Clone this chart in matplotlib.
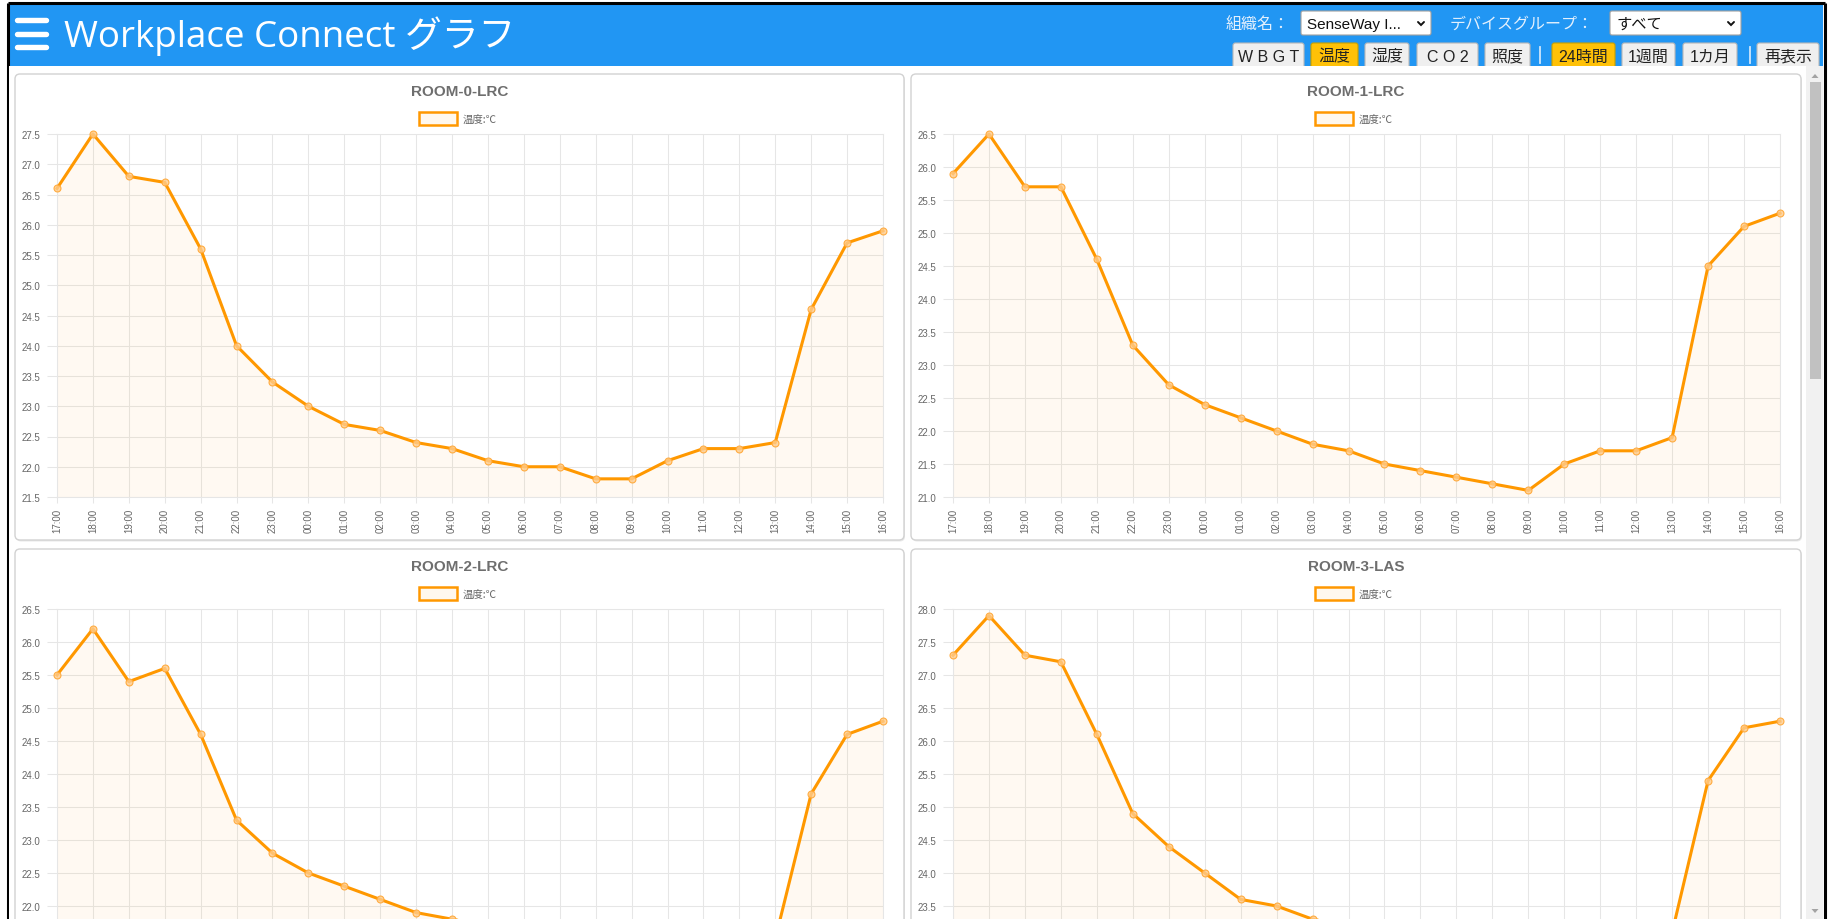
import matplotlib
matplotlib.use('Agg')
import matplotlib.pyplot as plt
from matplotlib.patches import FancyBboxPatch, Rectangle, Polygon
import numpy as np

W, H = 1829, 920
DPI = 100

# ---- texts ----
app_title = 'Workplace Connect グラフ'
org_label = '組織名：'
org_value = 'SenseWay I...'
group_label = 'デバイスグループ：'
group_value = 'すべて'
tab_labels = ['W B G T', '温度', '湿度', 'C O 2', '照度', '24時間', '1週間', '1カ月', '再表示']
tab_active = [False, True, False, False, False, True, False, False, False]

# ---- data ----
times = ['17:00', '18:00', '19:00', '20:00', '21:00', '22:00', '23:00', '00:00',
         '01:00', '02:00', '03:00', '04:00', '05:00', '06:00', '07:00', '08:00',
         '09:00', '10:00', '11:00', '12:00', '13:00', '14:00', '15:00', '16:00']
rooms = ['ROOM-0-LRC', 'ROOM-1-LRC', 'ROOM-2-LRC', 'ROOM-3-LAS']
series_label = '温度:℃'
temp_room0 = [26.6, 27.5, 26.8, 26.7, 25.6, 24.0, 23.4, 23.0, 22.7, 22.6, 22.4, 22.3,
              22.1, 22.0, 22.0, 21.8, 21.8, 22.1, 22.3, 22.3, 22.4, 24.6, 25.7, 25.9]
temp_room1 = [25.9, 26.5, 25.7, 25.7, 24.6, 23.3, 22.7, 22.4, 22.2, 22.0, 21.8, 21.7,
              21.5, 21.4, 21.3, 21.2, 21.1, 21.5, 21.7, 21.7, 21.9, 24.5, 25.1, 25.3]
temp_room2 = [25.5, 26.2, 25.4, 25.6, 24.6, 23.3, 22.8, 22.5, 22.3, 22.1, 21.9, 21.8,
              21.7, 21.6, 21.5, 21.4, 21.3, 21.4, 21.5, 21.5, 21.5, 23.7, 24.6, 24.8]
temp_room3 = [27.3, 27.9, 27.3, 27.2, 26.1, 24.9, 24.4, 24.0, 23.6, 23.5, 23.3, 23.2,
              23.1, 23.0, 22.9, 22.8, 22.8, 22.9, 23.0, 23.0, 23.1, 25.4, 26.2, 26.3]
y_min = [21.5, 21.0, 21.0, 22.5]
y_max = [27.5, 26.5, 26.5, 28.0]
all_temps = [temp_room0, temp_room1, temp_room2, temp_room3]

# ---- styles ----
BLUE = '#2196F3'
ORANGE = '#FF9800'
AMBER = '#FFC107'
GRID = '#e6e6e6'
TXT = '#666666'
JP = ['Noto Sans CJK JP', 'DejaVu Sans']
LAT = ['Liberation Sans', 'Noto Sans CJK JP', 'DejaVu Sans']

fig = plt.figure(figsize=(W / DPI, H / DPI), dpi=DPI)
fig.patch.set_facecolor('white')

bg = fig.add_axes([0, 0, 1, 1], zorder=0)
bg.set_xlim(0, W)
bg.set_ylim(H, 0)
bg.axis('off')


def px_rect(x0, y0, x1, y1):
    return [x0 / W, 1 - y1 / H, (x1 - x0) / W, (y1 - y0) / H]


# header bar
bg.add_patch(Rectangle((9, 5), 1814, 62, facecolor=BLUE, edgecolor='none'))
# outer black frame
bg.plot([7.5, 7.5], [4, H], color='black', lw=2.2, solid_capstyle='butt')
bg.plot([1824.5, 1824.5], [4, H], color='black', lw=2.2, solid_capstyle='butt')
bg.plot([7.5, 1824.5], [4, 4], color='black', lw=2.2, solid_capstyle='butt')

# hamburger
for yy in (21, 34.5, 48):
    bg.plot([17, 45.5], [yy, yy], color='white', lw=3.9, solid_capstyle='round')

bg.text(64, 47, app_title, fontsize=26.5, color='white', ha='left', va='baseline',
        family=['Open Sans', 'Noto Sans CJK JP'])

# selectors
LBL = '#e3f0fd'
bg.text(1226, 24, org_label, fontsize=11.5, color=LBL, ha='left', va='center', family=JP)
bg.add_patch(FancyBboxPatch((1301, 12), 130, 24, boxstyle='round,pad=0,rounding_size=2',
                            facecolor='white', edgecolor='#a0a0a0', lw=0.8))
bg.text(1307, 24.5, org_value, fontsize=11, color='#111', ha='left', va='center', family=LAT)
bg.text(1450, 24, group_label, fontsize=11.5, color=LBL, ha='left', va='center', family=JP)
bg.add_patch(FancyBboxPatch((1610, 12), 131, 24, boxstyle='round,pad=0,rounding_size=2',
                            facecolor='white', edgecolor='#a0a0a0', lw=0.8))
bg.text(1617, 24.5, group_value, fontsize=11, color='#111', ha='left', va='center', family=JP)
for cx in (1421, 1731):
    bg.plot([cx - 3, cx, cx + 3], [23, 26, 23], color='#111', lw=1.4,
            solid_capstyle='round', solid_joinstyle='miter')

# tab buttons
tab_x = [(1233, 1304), (1311, 1358), (1365, 1409), (1417, 1478), (1485, 1530),
         (1552, 1615), (1622, 1675), (1683, 1737), (1757, 1819)]
for (x0, x1), lab, act in zip(tab_x, tab_labels, tab_active):
    bg.add_patch(FancyBboxPatch((x0, 44), x1 - x0, 27, boxstyle='round,pad=0,rounding_size=2.5',
                                facecolor=AMBER if act else '#efefef',
                                edgecolor='#c8a000' if act else '#b8b8b8', lw=0.8, zorder=2))
    bg.text((x0 + x1) / 2, 57, lab, fontsize=11.5, color='#222', ha='center', va='center',
            family=LAT, zorder=3)
for sx in (1540, 1750):
    bg.plot([sx, sx], [48, 64], color='#cfe6fb', lw=1.3)

# white body under header
bg.add_patch(Rectangle((9, 67), 1797, H - 67, facecolor='white', edgecolor='none', zorder=2.5))

# scrollbar
bg.add_patch(Rectangle((1806, 67), 17, H - 67, facecolor='#f1f1f1', edgecolor='none', zorder=3))
bg.add_patch(Rectangle((1809.5, 83), 11.5, 297, facecolor='#c1c1c1', edgecolor='none', zorder=3.1))
bg.add_patch(Polygon([[1811.5, 79], [1818.5, 79], [1815, 75]], closed=True,
                     facecolor='#a3a3a3', edgecolor='none', zorder=3.1))
bg.add_patch(Polygon([[1811.5, 910], [1818.5, 910], [1815, 914]], closed=True,
                     facecolor='#a3a3a3', edgecolor='none', zorder=3.1))

# panels
panel_boxes = [(15, 75, 904, 541), (911, 75, 1801, 541),
               (15, 550, 904, 1016), (911, 550, 1801, 1016)]
x = np.arange(len(times))
for i, (name, vals) in enumerate(zip(rooms, all_temps)):
    px0, py0, px1, py1 = panel_boxes[i]
    bg.add_patch(FancyBboxPatch((px0 + 1, py0 + 1.5), px1 - px0, py1 - py0,
                                boxstyle='round,pad=0,rounding_size=5',
                                facecolor='#e9e9e9', edgecolor='none', zorder=2.6))
    bg.add_patch(FancyBboxPatch((px0, py0), px1 - px0, py1 - py0,
                                boxstyle='round,pad=0,rounding_size=5',
                                facecolor='white', edgecolor='#d2d2d2', lw=1.0, zorder=2.7))
    cx = (px0 + px1) / 2
    bg.text(cx, py0 + 17, name, fontsize=11, fontweight='bold', color='#6e6e6e',
            ha='center', va='center', family=LAT, zorder=2.8)
    bg.add_patch(Rectangle((cx - 41, py0 + 38), 38, 12.5, facecolor='#fff8ee',
                           edgecolor=ORANGE, lw=1.8, zorder=2.8))
    bg.text(cx + 3, py0 + 44.5, series_label, fontsize=7.5, color=TXT,
            ha='left', va='center', family=JP, zorder=2.8)

    top, bot = py0 + 60, py0 + 423
    ax = fig.add_axes(px_rect(px0 + 42, top, px1 - 21, bot), zorder=5)
    ax.set_facecolor('none')
    ax.fill_between(x, vals, y_min[i], color=ORANGE, alpha=0.05, lw=0, zorder=1)
    ax.plot(x, vals, color=ORANGE, lw=2.2, zorder=3, clip_on=False,
            marker='o', ms=5, mfc=(1.0, 0.8, 0.55, 0.8), mec=(1.0, 0.65, 0.2, 0.9), mew=0.8)
    ax.set_xlim(0, len(times) - 1)
    ax.set_ylim(y_min[i], y_max[i])
    ax.set_xticks(x)
    yt_all = np.arange(y_min[i], y_max[i] + 0.001, 0.5)
    # only ticks whose position falls inside the visible page
    yt = [v for v in yt_all
          if top + (y_max[i] - v) / (y_max[i] - y_min[i]) * (bot - top) <= H - 6]
    ax.set_yticks(yt)
    ax.set_yticklabels([f'{v:.1f}' for v in yt], fontsize=7, color=TXT, family=LAT)
    if bot <= H:
        ax.set_xticklabels(times, rotation=90, fontsize=7, color=TXT, family=LAT)
    else:
        ax.tick_params(axis='x', labelbottom=False)
    ax.grid(True, color=GRID, lw=0.75, zorder=0)
    ax.set_axisbelow(True)
    for s in ax.spines.values():
        s.set_color(GRID)
        s.set_linewidth(0.75)
    ax.tick_params(axis='y', length=7, width=0.75, color=GRID, pad=5)
    ax.tick_params(axis='x', length=4, width=0.75, color=GRID, pad=4)

fig.savefig('out.png', dpi=DPI, facecolor='white')
